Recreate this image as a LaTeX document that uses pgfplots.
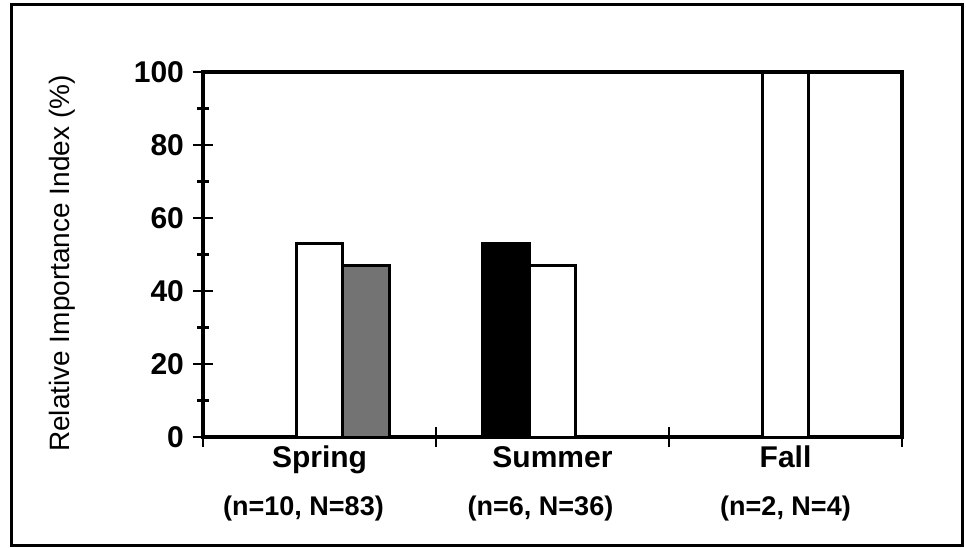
\documentclass[border=0pt]{standalone}
\usepackage{pgfplots}
\pgfplotsset{compat=1.18}
\usepackage{fontspec}
\setmainfont{Liberation Sans}
\usetikzlibrary{calc}
\begin{document}
\begin{tikzpicture}
\begin{axis}[
  scale only axis, width=349.5pt, height=182.5pt,
  xmin=0, xmax=3, ymin=0, ymax=100,
  xtick={0,1,2,3}, xticklabels={,,,},
  extra x ticks={0.5,1.5,2.5},
  extra x tick labels={{\textbf{Spring}\\[7pt]{\fontsize{13.5}{15}\selectfont\bfseries (n=10, N=83)\hspace*{16pt}}},
                       {\textbf{Summer}\\[7pt]{\fontsize{13.5}{15}\selectfont\bfseries (n=6, N=36)\hspace*{12pt}}},
                       {\textbf{Fall}\\[7pt]{\fontsize{13.5}{15}\selectfont\bfseries (n=2, N=4)}}},
  extra x tick style={major tick length=0pt},
  xticklabel style={align=center, font=\fontsize{15}{17}\selectfont\bfseries, yshift=-1pt},
  ytick={0,20,40,60,80,100}, minor y tick num=1,
  xtick pos=left, ytick pos=left,
  tick align=center, major tick length=10pt, minor tick length=6pt,
  tick style={line width=1.4pt, black},
  axis line style={line width=1.7pt},
  yticklabel style={font=\fontsize{15}{15}\selectfont\bfseries, xshift=-1pt},
  /pgf/number format/assume math mode=true,
  ylabel={Relative Importance Index (\%)},
  every axis y label/.style={at={(axis description cs:-0.2017,0.475)}, rotate=90, anchor=center, font=\fontsize{14}{14}\selectfont},
]
\addplot[ybar, bar width=0.2, bar shift=0pt, fill=white, draw=black, line width=1.5pt]
  coordinates {(0.5,53) (1.5,47) (2.5,100)};
\addplot[ybar, bar width=0.2, bar shift=0pt, fill=black!55, draw=black, line width=1.5pt]
  coordinates {(0.7,47)};
\addplot[ybar, bar width=0.2, bar shift=0pt, fill=black, draw=black, line width=1.5pt]
  coordinates {(1.3,53)};
\coordinate (SW) at (rel axis cs:0,0);
\coordinate (NE) at (rel axis cs:1,1);
\end{axis}
\draw[line width=1.5pt] ($(SW)+(-95.5pt,-54pt)$) rectangle ($(NE)+(30pt,33.5pt)$);
\path ($(SW)+(-101.5pt,-55pt)$) rectangle ($(NE)+(32pt,36pt)$);
\end{tikzpicture}
\end{document}
